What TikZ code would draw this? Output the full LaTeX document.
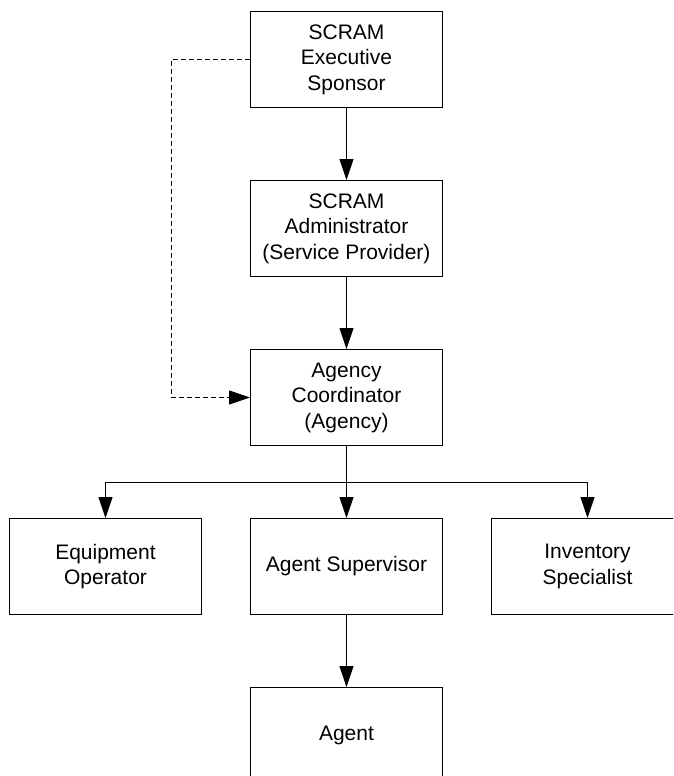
\documentclass[tikz,border=0pt]{standalone}
\usepackage{fontspec}
\setmainfont{Liberation Sans}
\usepackage{tikz}
\usetikzlibrary{positioning, arrows.meta, calc}

\begin{document}
\begin{tikzpicture}[
    x=1pt, y=-1pt,
    role/.style={rectangle, draw, line width=1pt, minimum width=192pt, minimum height=96pt, align=center, inner sep=0pt,
                 font=\fontsize{21pt}{25.5pt}\selectfont},
    link/.style={line width=1pt, -{Triangle[length=21pt, width=14pt]}},
    node distance=72pt and 48pt
]
\clip (0,0) rectangle (673,776);
\useasboundingbox (0,0) rectangle (673,776);

% hierarchy
\node[role] (sponsor) at (346.5,59.5) {SCRAM\\Executive\\Sponsor};
\node[role, below=of sponsor] (admin) {SCRAM\\Administrator\\(Service Provider)};
\node[role, below=of admin] (coord) {Agency\\Coordinator\\(Agency)};
\node[role, below=of coord] (supervisor) {Agent Supervisor};
\node[role, left=of supervisor] (operator) {Equipment\\Operator};
\node[role, right=of supervisor] (inventory) {Inventory\\Specialist};
\node[role, below=of supervisor] (agent) {Agent};

% connectors
\draw[link] (sponsor) -- (admin);
\draw[link] (admin) -- (coord);
\coordinate (split) at ($(coord.south)!0.5!(supervisor.north)$);
\draw[link] (coord) -- (supervisor);
\draw[link] (split) -| (operator.north);
\draw[link] (split) -| (inventory.north);
\draw[link] (supervisor) -- (agent);

% dotted reporting line
\draw[link, dash pattern=on 5pt off 3pt] (sponsor.west) -- ++(-78.4,0) |- (coord.west);

\end{tikzpicture}
\end{document}
